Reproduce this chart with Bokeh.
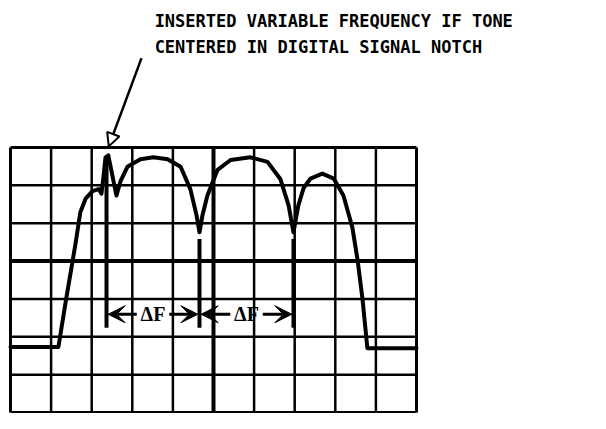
from bokeh.plotting import figure
from bokeh.models import Range1d, Arrow, VeeHead, NormalHead
from bokeh.core.properties import value
from bokeh.embed import file_html
from bokeh.resources import INLINE

# grid: 10 columns x 7 rows (screen divisions)
n_cols = 10
n_rows = 7
center_col = 5
center_row = 4

# spectrum trace (divisions)
trace_x = [0.0, 1.18, 1.36, 1.60, 1.72, 1.85, 2.02, 2.17, 2.24, 2.29, 2.34, 2.41, 2.49, 2.61,
           2.71, 2.88, 3.20, 3.52, 3.87, 4.19, 4.43, 4.58, 4.655, 4.73, 4.85, 5.10, 5.42,
           5.91, 6.33, 6.65, 6.85, 6.97, 7.09, 7.22, 7.39, 7.68, 7.96, 8.20, 8.42, 8.55,
           8.67, 8.79, 10.0]
trace_y = [1.73, 1.73, 2.93, 4.45, 5.29, 5.65, 5.85, 5.90, 5.78, 6.23, 6.74, 6.79, 6.36, 5.73,
           6.11, 6.49, 6.69, 6.74, 6.69, 6.49, 5.90, 5.22, 4.76, 5.22, 5.73, 6.41, 6.67,
           6.74, 6.62, 6.16, 5.47, 4.76, 5.47, 5.93, 6.18, 6.31, 6.18, 5.73, 4.89, 4.02,
           3.00, 1.70, 1.70]

# markers: IF tone and the two notches
marker_x = [2.365, 4.655, 6.97]
marker_top = [6.76, 4.58, 4.58]
marker_bottom = 2.24
delta_y = 2.595
delta_label = "\u0394F"

title_lines = ["INSERTED VARIABLE FREQUENCY IF TONE",
               "CENTERED IN DIGITAL SIGNAL NOTCH"]
title_x = 3.55
title_y = [10.35, 9.65]
pointer_start = (3.227, 9.36)
pointer_end = (2.42, 7.03)

W, H = 590, 413
p = figure(width=W, height=H, output_backend="svg", toolbar_location=None,
           x_axis_type=None, y_axis_type=None, min_border=0,
           x_range=Range1d(-0.2463, 14.286), y_range=Range1d(-0.0264, 10.883))
p.outline_line_color = None
p.grid.visible = False
p.background_fill_color = "white"
p.border_fill_color = "white"

# grid lines
vx = list(range(n_cols + 1))
p.segment(x0=vx, y0=[0] * len(vx), x1=vx, y1=[n_rows] * len(vx),
          line_color="black",
          line_width=[3 if (v in (0, n_cols)) else (4 if v == center_col else 2.5) for v in vx])
hy = list(range(n_rows + 1))
p.segment(x0=[0] * len(hy), y0=hy, x1=[n_cols] * len(hy), y1=hy,
          line_color="black",
          line_width=[3 if (v in (0, n_rows)) else (4 if v == center_row else 2.5) for v in hy])

# trace
p.line(trace_x, trace_y, line_color="black", line_width=4, line_join="round", line_cap="round")

# marker lines
p.segment(x0=marker_x, y0=marker_top, x1=marker_x, y1=[marker_bottom] * 3,
          line_color="black", line_width=4)

# delta F dimension arrows
gap = 0.40
for a, b in zip(marker_x[:-1], marker_x[1:]):
    mid = (a + b) / 2
    p.add_layout(Arrow(end=VeeHead(size=17, fill_color="black", line_color="black"),
                       x_start=mid - gap, y_start=delta_y, x_end=a + 0.04, y_end=delta_y,
                       line_width=3))
    p.add_layout(Arrow(end=VeeHead(size=17, fill_color="black", line_color="black"),
                       x_start=mid + gap, y_start=delta_y, x_end=b - 0.04, y_end=delta_y,
                       line_width=3))
mids = [(a + b) / 2 for a, b in zip(marker_x[:-1], marker_x[1:])]
p.text(x=mids, y=[delta_y] * len(mids), text=[delta_label] * len(mids),
       text_font=value("Liberation Serif"), text_font_style="bold",
       text_font_size="20px", text_align="center", text_baseline="middle",
       text_color="black")

# title text
p.text(x=[title_x] * 2, y=title_y, text=title_lines,
       text_font=value("DejaVu Sans Mono"), text_font_style="bold",
       text_font_size="17px", text_align="left", text_baseline="middle",
       text_color="black")

# pointer arrow
p.add_layout(Arrow(end=NormalHead(size=13, fill_color="white", line_color="black", line_width=2),
                   x_start=pointer_start[0], y_start=pointer_start[1],
                   x_end=pointer_end[0], y_end=pointer_end[1], line_width=2.5))

open("out.html", "w").write(file_html(p, INLINE))
